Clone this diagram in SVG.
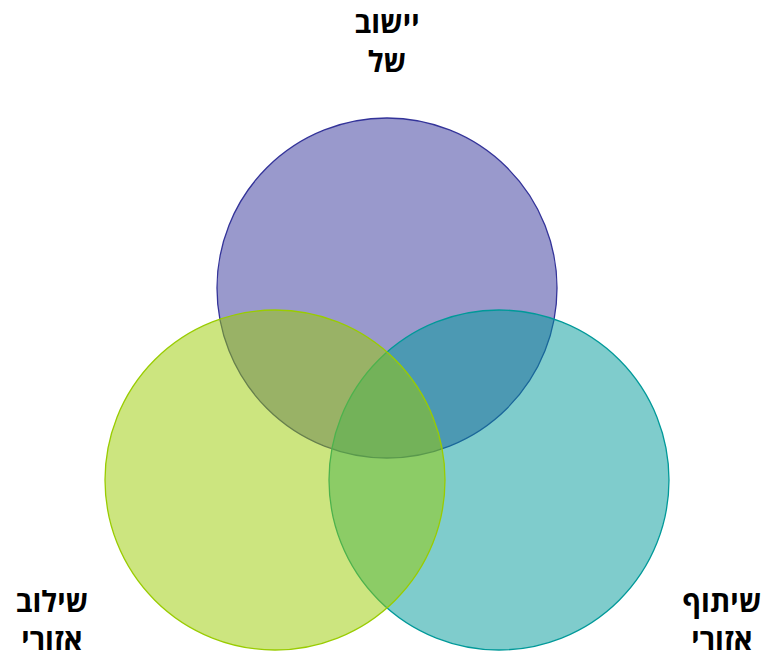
<svg xmlns="http://www.w3.org/2000/svg" width="766" height="657" viewBox="0 0 766 657">
<style>
.lbl{font-family:"Open Sans","DejaVu Sans",sans-serif;font-weight:bold;font-size:29px;fill:#000;text-anchor:middle}
.c{fill-opacity:0.5;stroke-width:1.3}
</style>
<rect width="766" height="657" fill="#fff"/>
<g id="node-top">
<circle class="c" cx="387" cy="288" r="170" fill="#333399" stroke="#333399"/>
<text class="lbl" x="387" y="33" direction="rtl">יישוב</text>
<text class="lbl" x="387" y="72" direction="rtl">של</text>
</g>
<g id="node-right">
<circle class="c" cx="499" cy="480" r="170" fill="#009999" stroke="#009999"/>
<text class="lbl" x="722" y="612" direction="rtl">שיתוף</text>
<text class="lbl" x="722" y="650" direction="rtl">אזורי</text>
</g>
<g id="node-left">
<circle class="c" cx="275" cy="480" r="170" fill="#99CC00" stroke="#99CC00"/>
<text class="lbl" x="52" y="612" direction="rtl">שילוב</text>
<text class="lbl" x="52" y="650" direction="rtl">אזורי</text>
</g>
<g id="connectors"></g>
</svg>
